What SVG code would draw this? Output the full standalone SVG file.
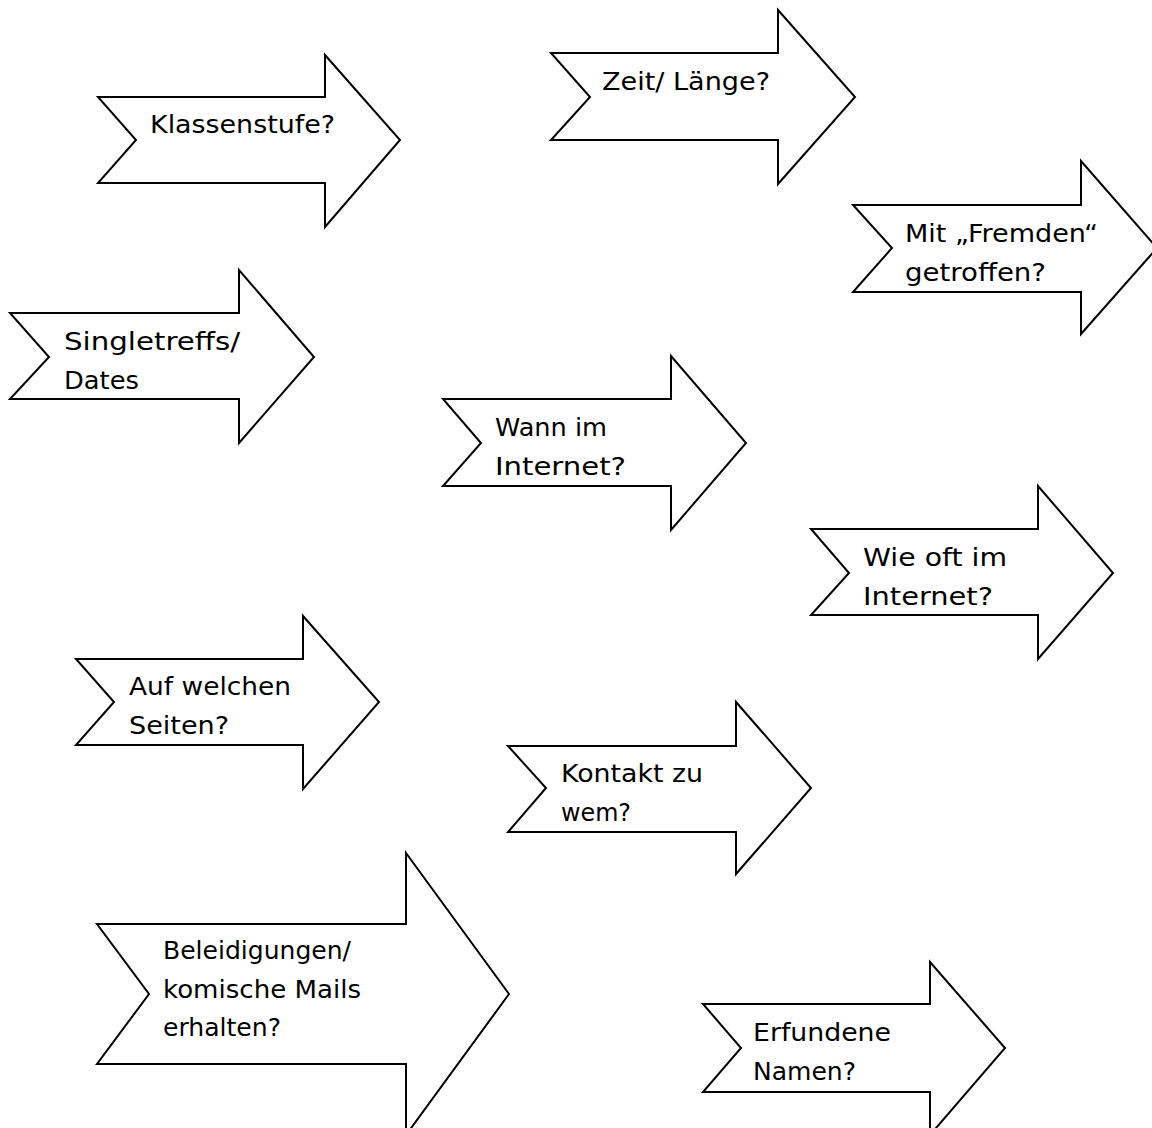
<svg xmlns="http://www.w3.org/2000/svg" width="1152" height="1128" viewBox="0 0 1152 1128">
<style>
.arrow{fill:#fff;stroke:#000;stroke-width:2;stroke-linejoin:miter;stroke-miterlimit:10}
.lbl{font-family:"DejaVu Sans","Liberation Sans",sans-serif;font-size:24px;fill:#000}
</style>
<rect width="1152" height="1128" fill="#fff"/>
<g id="connectors"/>
<g id="n-klassenstufe">
<polygon class="arrow" points="98,97 325,97 325,55 400,140 325,227 325,183 98,183 136,140"/>
<text class="lbl" x="150" y="133" textLength="185" lengthAdjust="spacingAndGlyphs">Klassenstufe?</text>
</g>
<g id="n-zeit">
<polygon class="arrow" points="551,53 778,53 778,10 855,97 778,184 778,140 551,140 590,97"/>
<text class="lbl" x="602" y="90" textLength="168" lengthAdjust="spacingAndGlyphs">Zeit/ Länge?</text>
</g>
<g id="n-fremden">
<polygon class="arrow" points="853,205 1081,205 1081,161 1157,248 1081,334 1081,292 853,292 892,248"/>
<text class="lbl" x="905" y="242" textLength="193" lengthAdjust="spacingAndGlyphs">Mit „Fremden“</text>
<text class="lbl" x="905" y="281" textLength="141" lengthAdjust="spacingAndGlyphs">getroffen?</text>
</g>
<g id="n-singletreffs">
<polygon class="arrow" points="10,313 239,313 239,270 314,357 239,443 239,399 10,399 49,357"/>
<text class="lbl" x="64" y="350" textLength="176" lengthAdjust="spacingAndGlyphs">Singletreffs/</text>
<text class="lbl" x="64" y="389" textLength="75" lengthAdjust="spacingAndGlyphs">Dates</text>
</g>
<g id="n-wann">
<polygon class="arrow" points="443,399 671,399 671,356 746,443 671,530 671,486 443,486 481,443"/>
<text class="lbl" x="495" y="436" textLength="112" lengthAdjust="spacingAndGlyphs">Wann im</text>
<text class="lbl" x="495" y="475" textLength="131" lengthAdjust="spacingAndGlyphs">Internet?</text>
</g>
<g id="n-wieoft">
<polygon class="arrow" points="811,529 1038,529 1038,486 1113,573 1038,659 1038,615 811,615 849,573"/>
<text class="lbl" x="863" y="566" textLength="144" lengthAdjust="spacingAndGlyphs">Wie oft im</text>
<text class="lbl" x="863" y="605" textLength="130" lengthAdjust="spacingAndGlyphs">Internet?</text>
</g>
<g id="n-seiten">
<polygon class="arrow" points="76,659 303,659 303,616 379,702 303,789 303,745 76,745 114,702"/>
<text class="lbl" x="129" y="695" textLength="162" lengthAdjust="spacingAndGlyphs">Auf welchen</text>
<text class="lbl" x="129" y="734" textLength="100" lengthAdjust="spacingAndGlyphs">Seiten?</text>
</g>
<g id="n-kontakt">
<polygon class="arrow" points="508,746 736,746 736,702 811,788 736,874 736,832 508,832 546,788"/>
<text class="lbl" x="561" y="782" textLength="142" lengthAdjust="spacingAndGlyphs">Kontakt zu</text>
<text class="lbl" x="561" y="821" textLength="70" lengthAdjust="spacingAndGlyphs">wem?</text>
</g>
<g id="n-beleidigungen">
<polygon class="arrow" points="97,924 406,924 406,853 509,994 406,1135 406,1064 97,1064 149,994"/>
<text class="lbl" x="163" y="959" textLength="188" lengthAdjust="spacingAndGlyphs">Beleidigungen/</text>
<text class="lbl" x="163" y="998" textLength="198" lengthAdjust="spacingAndGlyphs">komische Mails</text>
<text class="lbl" x="163" y="1036" textLength="118" lengthAdjust="spacingAndGlyphs">erhalten?</text>
</g>
<g id="n-erfundene">
<polygon class="arrow" points="703,1004 930,1004 930,962 1005,1048 930,1135 930,1092 703,1092 741,1048"/>
<text class="lbl" x="753" y="1041" textLength="138" lengthAdjust="spacingAndGlyphs">Erfundene</text>
<text class="lbl" x="753" y="1080" textLength="103" lengthAdjust="spacingAndGlyphs">Namen?</text>
</g>
</svg>
